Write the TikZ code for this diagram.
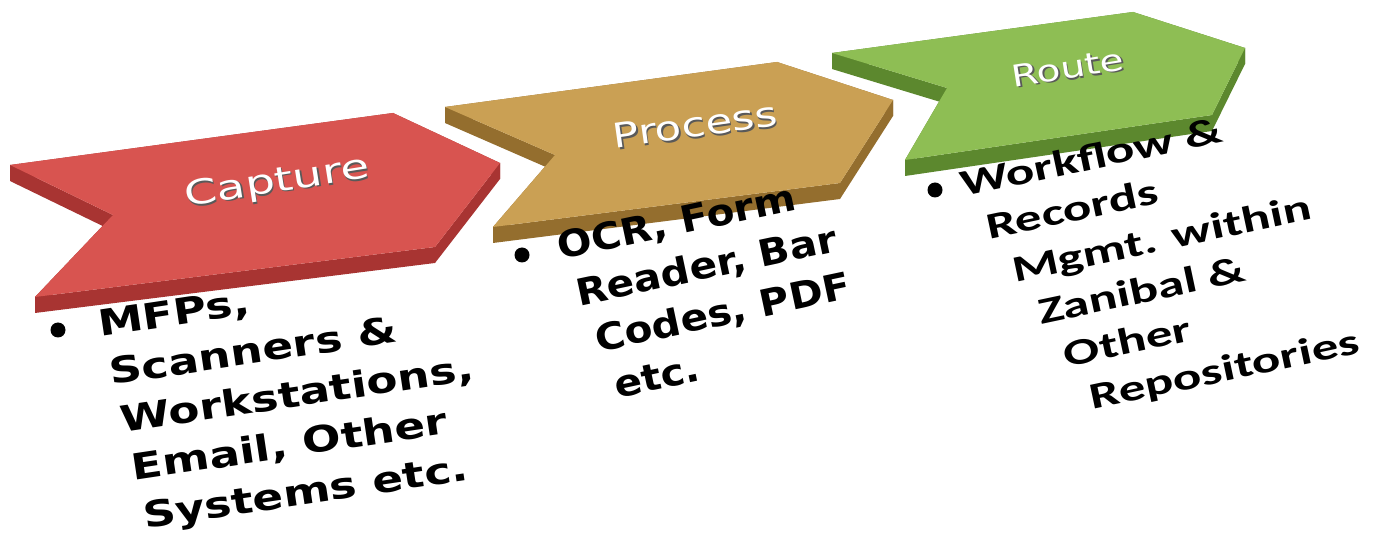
\documentclass[tikz,border=0pt]{standalone}
\usepackage{fontspec}
\setmainfont{DejaVu Sans}
\newfontfamily\calib{Carlito}
\definecolor{redtop}{RGB}{216,84,80}
\definecolor{redside}{RGB}{168,52,50}
\definecolor{ortop}{RGB}{202,160,84}
\definecolor{orside}{RGB}{148,110,46}
\definecolor{grtop}{RGB}{142,190,84}
\definecolor{grside}{RGB}{92,136,46}
\begin{document}
\begin{tikzpicture}[x=1pt,y=1pt,
  lab/.style={inner sep=0, text=white, font=\fontsize{34}{38}\selectfont},
  labshadow/.style={inner sep=0, text=black!65, font=\fontsize{34}{38}\selectfont},
  bul/.style={circle, fill=black, inner sep=0, minimum size=15},
  lt/.style={anchor=base west, inner sep=0, rotate=8.5, xscale=1.26, font=\fontsize{36}{40}\selectfont\bfseries},
  mt/.style={anchor=base west, inner sep=0, rotate=12, xscale=1.1, font=\fontsize{37}{40}\selectfont\bfseries},
  rt/.style={anchor=base west, inner sep=0, rotate=12, xscale=1.44, font=\fontsize{37}{40}\selectfont\calib\bfseries}
]
\path[use as bounding box, fill=white] (0,0) rectangle (1376,552);

% ---- red chevron ----
\coordinate (rA) at (10,387);
\coordinate (rB) at (393,439);
\coordinate (rC) at (500,389);
\coordinate (rD) at (435,305);
\coordinate (rE) at (35,255);
\coordinate (rF) at (113,337);
% ---- orange chevron ----
\coordinate (oA) at (445,445);
\coordinate (oB) at (777,490);
\coordinate (oC) at (893,452);
\coordinate (oD) at (840,369);
\coordinate (oE) at (493,325);
\coordinate (oF) at (555,397);
% ---- green chevron ----
\coordinate (gA) at (832,499);
\coordinate (gB) at (1133,540);
\coordinate (gC) at (1245,504);
\coordinate (gD) at (1212,437);
\coordinate (gE) at (905,392);
\coordinate (gF) at (947,464);

\foreach \c/\side/\top in {g/grside/grtop, o/orside/ortop, r/redside/redtop}{
  \foreach \p/\q in {A/B,B/C,C/D,D/E,E/F,F/A}
    \fill[\side] (\c\p) -- (\c\q) -- ([yshift=-16pt]\c\q) -- ([yshift=-16pt]\c\p) -- cycle;
  \fill[\top] (\c A) -- (\c B) -- (\c C) -- (\c D) -- (\c E) -- (\c F) -- cycle;
}

% ---- labels ----
\node[labshadow, rotate=9, xscale=1.38] (caps) at (278.5,367.5) {Capture};
\node[lab, rotate=9, xscale=1.38] (cap) at (277,369) {Capture};
\node[labshadow, rotate=8, xscale=1.28] (pros) at (696.5,425.5) {Process};
\node[lab, rotate=8, xscale=1.28] (pro) at (695,427) {Process};
\node[labshadow, rotate=9, xscale=1.3, font=\fontsize{30}{34}\selectfont] (rous) at (1069.5,482.5) {Route};
\node[lab, rotate=9, xscale=1.3, font=\fontsize{30}{34}\selectfont] (rou) at (1068,484) {Route};

% ---- left bullet text ----
\node[bul] (b1) at (58,222) {};
\begin{scope}[shift={(100,215)}, rotate=8.5]
  \node[lt] (c1) at (0,0) {MFPs,};
  \node[lt] (c2) at (4,-49) {Scanners \&};
  \node[lt] (c3) at (8,-98) {Workstations,};
  \node[lt] (c4) at (12,-147) {Email, Other};
  \node[lt] (c5) at (16,-196) {Systems etc.};
\end{scope}

% ---- middle bullet text ----
\node[bul] (b2) at (522,297) {};
\begin{scope}[shift={(560,292)}, rotate=12]
  \node[mt] (m1) at (0,0) {OCR, Form};
  \node[mt] (m2) at (9,-49) {Reader, Bar};
  \node[mt] (m3) at (18,-98) {Codes, PDF};
  \node[mt] (m4) at (27,-147) {etc.};
\end{scope}

% ---- right bullet text ----
\node[bul] (b3) at (935,362) {};
\begin{scope}[shift={(963,355)}, rotate=12]
  \node[rt] (w1) at (0,0) {Workflow \&};
  \node[rt] (w2) at (16.5,-47) {Records};
  \node[rt] (w3) at (33,-94) {Mgmt. within};
  \node[rt] (w4) at (49.5,-141) {Zanibal \&};
  \node[rt] (w5) at (66,-188) {Other};
  \node[rt] (w6) at (82.5,-235) {Repositories};
\end{scope}
\end{tikzpicture}
\end{document}
